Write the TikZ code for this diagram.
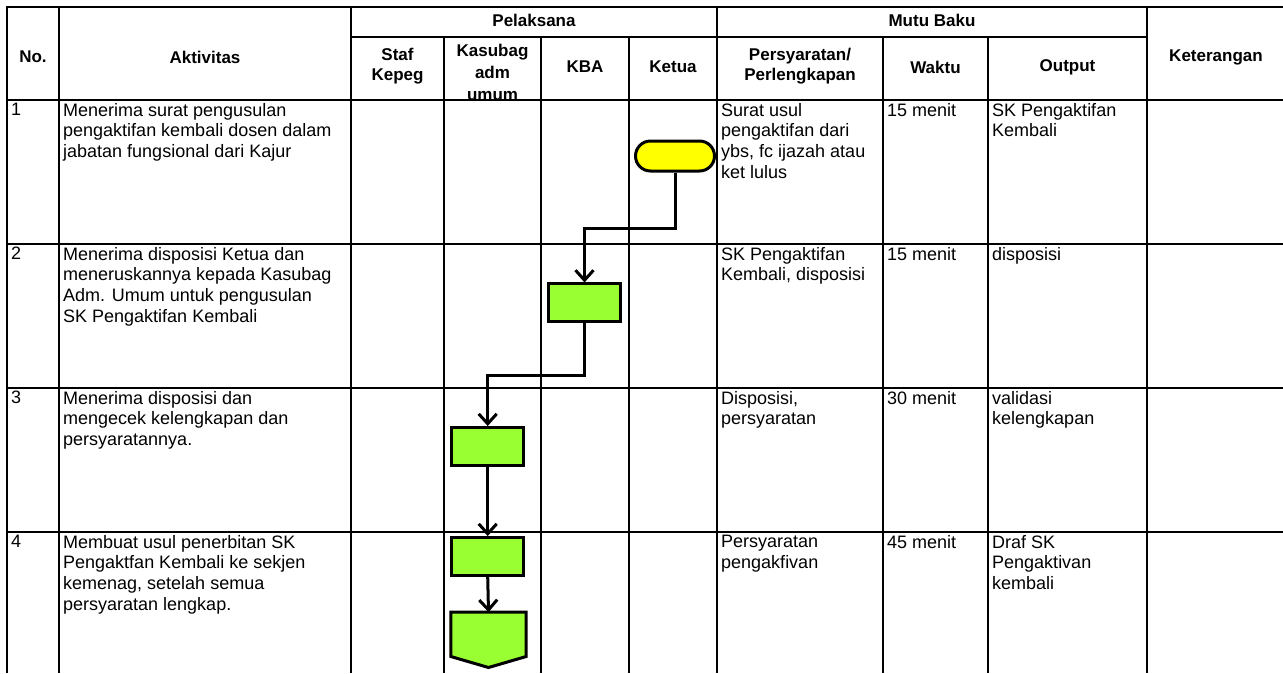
\documentclass[tikz,border=0pt]{standalone}
\usepackage{fontspec}
\setmainfont{Liberation Sans}
\usepackage{tikz}
\usetikzlibrary{arrows.meta}
\definecolor{boxgreen}{RGB}{153,255,51}
\definecolor{termyellow}{RGB}{255,255,0}

\begin{document}
\begin{tikzpicture}[x=1pt, y=-1pt,
    grid/.style={line width=2pt},
    head/.style={font=\fontsize{17}{20}\selectfont\bfseries, align=center, inner sep=0},
    cell/.style={font=\fontsize{18}{20.7}\selectfont, align=left, anchor=north west, inner sep=0},
    term/.style={draw, line width=3pt, fill=termyellow, rounded corners=15pt, minimum width=79pt, minimum height=30pt, inner sep=0},
    flowbox/.style={draw, line width=3pt, fill=boxgreen, minimum width=72pt, minimum height=37.5pt, inner sep=0},
    flow/.style={line width=3pt, -{Straight Barb[length=10pt, width=18pt]}}]

    \useasboundingbox (0,0) rectangle (1283,673);
    \clip (0,0) rectangle (1283,673);

    % table grid
    \draw[grid] (7,673) -- (7,7) -- (1290,7);
    \foreach \y in {100,244,388,532} \draw[grid] (7,\y) -- (1290,\y);
    \draw[grid] (351,37) -- (1147,37);
    \foreach \x in {59,351,717,1147} \draw[grid] (\x,7) -- (\x,673);
    \foreach \x in {444,541,629,883,988} \draw[grid] (\x,37) -- (\x,673);

    % header
    \node[head] (hno) at (33,57) {No.};
    \node[head] (hakt) at (205,57) {Aktivitas};
    \node[head] (hpel) at (534,20) {Pelaksana};
    \node[head] (hmutu) at (932,20) {Mutu Baku};
    \node[head] (hket) at (1216,57) {Keterangan};
    \node[head] (hstaf) at (397.5,66) {Staf\\Kepeg};
    \begin{scope}
        \clip (444,37) rectangle (541,99);
        \node[head, font=\fontsize{17}{22}\selectfont\bfseries] (hkasub) at (492.5,72) {Kasubag\\adm\\umum};
    \end{scope}
    \node[head] (hkba) at (585,67) {KBA};
    \node[head] (hketua) at (673,67) {Ketua};
    \node[head] (hsyarat) at (800,66) {Persyaratan/\\Perlengkapan};
    \node[head] (hwaktu) at (935.5,67) {Waktu};
    \node[head] (hout) at (1067.5,67) {Output};

    % row 1
    \node[cell] (n1) at (11,103) {1};
    \node[cell] (a1) at (63,103) {Menerima surat pengusulan\\pengaktifan kembali dosen dalam\\jabatan fungsional dari Kajur};
    \node[cell] (s1) at (721,103) {Surat usul\\pengaktifan dari\\ybs, fc ijazah atau\\ket lulus};
    \node[cell] (w1) at (887,103) {15 menit};
    \node[cell] (o1) at (992,103) {SK Pengaktifan\\Kembali};

    % row 2
    \node[cell] (n2) at (11,247) {2};
    \node[cell] (a2) at (63,247) {Menerima disposisi Ketua dan\\meneruskannya kepada Kasubag\\Adm. Umum untuk pengusulan\\SK Pengaktifan Kembali};
    \node[cell] (s2) at (721,247) {SK Pengaktifan\\Kembali, disposisi};
    \node[cell] (w2) at (887,247) {15 menit};
    \node[cell] (o2) at (992,247) {disposisi};

    % row 3
    \node[cell] (n3) at (11,391) {3};
    \node[cell] (a3) at (63,391) {Menerima disposisi dan\\mengecek kelengkapan dan\\persyaratannya.};
    \node[cell] (s3) at (721,391) {Disposisi,\\persyaratan};
    \node[cell] (w3) at (887,391) {30 menit};
    \node[cell] (o3) at (992,391) {validasi\\kelengkapan};

    % row 4
    \node[cell] (n4) at (11,535) {4};
    \node[cell] (a4) at (63,535) {Membuat usul penerbitan SK\\Pengaktfan Kembali ke sekjen\\kemenag, setelah semua\\persyaratan lengkap.};
    \node[cell] (s4) at (721,535) {Persyaratan\\pengakfivan};
    \node[cell] (w4) at (887,535) {45 menit};
    \node[cell] (o4) at (992,535) {Draf SK\\Pengaktivan\\kembali};

    % flow
    \node[term] (start) at (675,156) {};
    \node[flowbox] (kba) at (584.5,302.7) {};
    \node[flowbox] (cek) at (487.7,446.3) {};
    \node[flowbox] (usul) at (487.7,556.3) {};
    \node[minimum width=75pt, minimum height=44pt, inner sep=0] (keluar) at (488.5,634.3) {};
    \draw[line width=3pt, fill=boxgreen] (keluar.north west) -- (keluar.north east) -- (keluar.south east) -- ([yshift=-11pt]keluar.south) -- (keluar.south west) -- cycle;

    \draw[flow] (start.south) -- ++(0,56) -| (kba.north);
    \draw[flow] (kba.south) -- ++(0,53) -| (cek.north);
    \draw[flow] (cek.south) -- (usul.north);
    \draw[flow] (usul.south) -- (keluar.north);
\end{tikzpicture}
\end{document}
